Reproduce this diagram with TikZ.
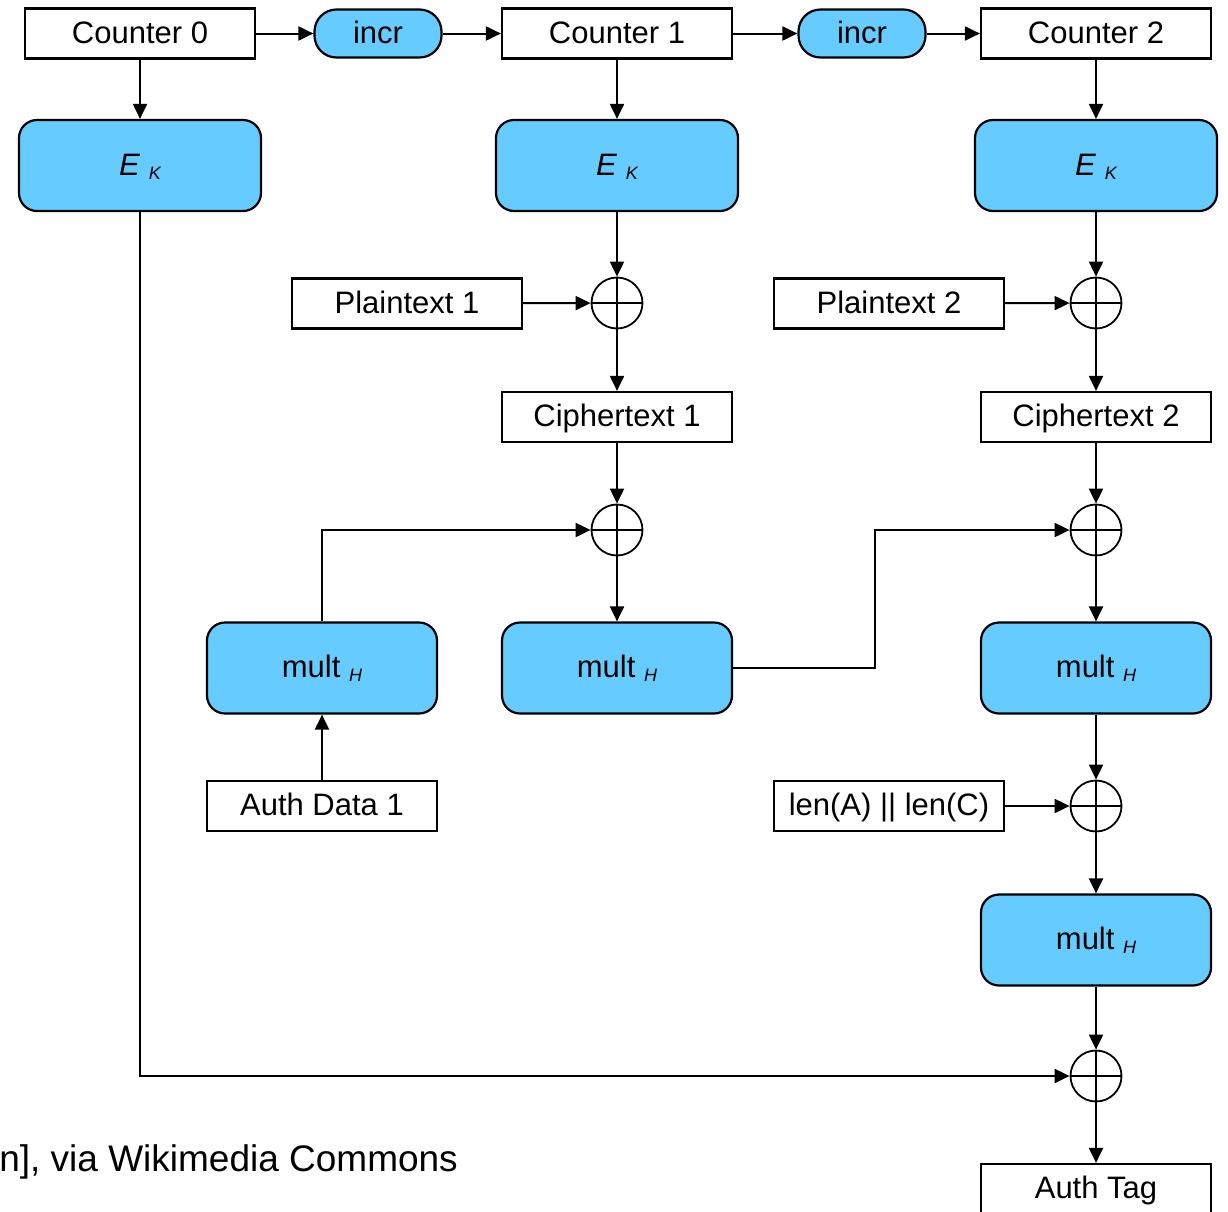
\documentclass[tikz,border=0pt]{standalone}
\usepackage{fontspec}
\setmainfont{Liberation Sans}
\usetikzlibrary{arrows.meta}
\usetikzlibrary{positioning}
\definecolor{blockblue}{HTML}{66CCFF}
\newcommand{\lowsub}[1]{\raisebox{-4pt}{\fontsize{18}{20}\selectfont\itshape #1}}
\newcommand{\enc}{\textit{E} \lowsub{K}}
\newcommand{\mult}{mult \lowsub{H}}

\begin{document}
\begin{tikzpicture}[x=1pt, y=-1pt,
                    every node/.style={font=\fontsize{31}{36}\selectfont},
                    databox/.style={draw, line width=2.2pt, inner sep=0pt,
                                    text height=22pt, text depth=3pt,
                                    minimum width=230pt, minimum height=50pt},
                    blockbox/.style={databox, fill=blockblue, rounded corners=18pt,
                                     minimum height=91pt},
                    incrbox/.style={databox, fill=blockblue, rounded corners=22pt,
                                    minimum width=127pt, minimum height=48pt},
                    xor/.style={circle, draw, line width=1.8pt, minimum size=51pt,
                                inner sep=0pt,
                                path picture={\draw[line width=1.8pt]
                                    (path picture bounding box.north) -- (path picture bounding box.south)
                                    (path picture bounding box.west) -- (path picture bounding box.east);}},
                    flow/.style={line width=2pt, -{Triangle[length=15pt, width=14pt]}}]

    \useasboundingbox (0,0) rectangle (1228,1211);

    % counters and increments
    \node[databox] (c0) at (140,33.5) {Counter 0};
    \node[incrbox] (inc1) at (378,33.5) {incr};
    \node[databox] (c1) at (617,33.5) {Counter 1};
    \node[incrbox] (inc2) at (862,33.5) {incr};
    \node[databox] (c2) at (1096,33.5) {Counter 2};

    % block ciphers
    \node[blockbox, minimum width=242pt] (ek0) at (140,165.5) {\enc};
    \node[blockbox, minimum width=242pt] (ek1) at (617,165.5) {\enc};
    \node[blockbox, minimum width=242pt] (ek2) at (1096,165.5) {\enc};

    % encryption
    \node[xor] (x1) at (617,303) {};
    \node[xor] (x2) at (1096,303) {};
    \node[databox] (p1) at (407,303.5) {Plaintext 1};
    \node[databox] (p2) at (889,303.5) {Plaintext 2};
    \node[databox] (ct1) at (617,417) {Ciphertext 1};
    \node[databox] (ct2) at (1096,417) {Ciphertext 2};

    % authentication
    \node[xor] (x3) at (617,530) {};
    \node[xor] (x4) at (1096,530) {};
    \node[blockbox] (m1) at (322,668) {\mult};
    \node[blockbox] (m2) at (617,668) {\mult};
    \node[blockbox] (m3) at (1096,668) {\mult};
    \node[databox] (ad) at (322,806) {Auth Data 1};
    \node[databox] (len) at (889,806) {len(A) || len(C)};
    \node[xor] (x5) at (1096,806) {};
    \node[blockbox] (m4) at (1096,940) {\mult};
    \node[xor] (x6) at (1096,1076) {};
    \node[databox] (tag) at (1096,1189) {Auth Tag};
    \coordinate (bend) at (875,668);

    \node[font=\fontsize{37}{42}\selectfont, anchor=base east, inner sep=0pt] (credit)
        at (458,1171) {n], via Wikimedia Commons};

    \draw[flow] (c0) -- (inc1);
    \draw[flow] (inc1) -- (c1);
    \draw[flow] (c1) -- (inc2);
    \draw[flow] (inc2) -- (c2);
    \draw[flow] (c0) -- (ek0);
    \draw[flow] (c1) -- (ek1);
    \draw[flow] (c2) -- (ek2);

    \draw[flow] (ek1) -- (x1);
    \draw[flow] (p1) -- (x1);
    \draw[flow] (x1) -- (ct1);
    \draw[flow] (ek2) -- (x2);
    \draw[flow] (p2) -- (x2);
    \draw[flow] (x2) -- (ct2);

    \draw[flow] (ct1) -- (x3);
    \draw[flow] (m1) |- (x3);
    \draw[flow] (x3) -- (m2);
    \draw[flow] (ad) -- (m1);
    \draw[flow] (m2) -- (bend) |- (x4);
    \draw[flow] (ct2) -- (x4);
    \draw[flow] (x4) -- (m3);
    \draw[flow] (m3) -- (x5);
    \draw[flow] (len) -- (x5);
    \draw[flow] (x5) -- (m4);
    \draw[flow] (m4) -- (x6);
    \draw[flow] (ek0) |- (x6);
    \draw[flow] (x6) -- (tag);
\end{tikzpicture}
\end{document}
